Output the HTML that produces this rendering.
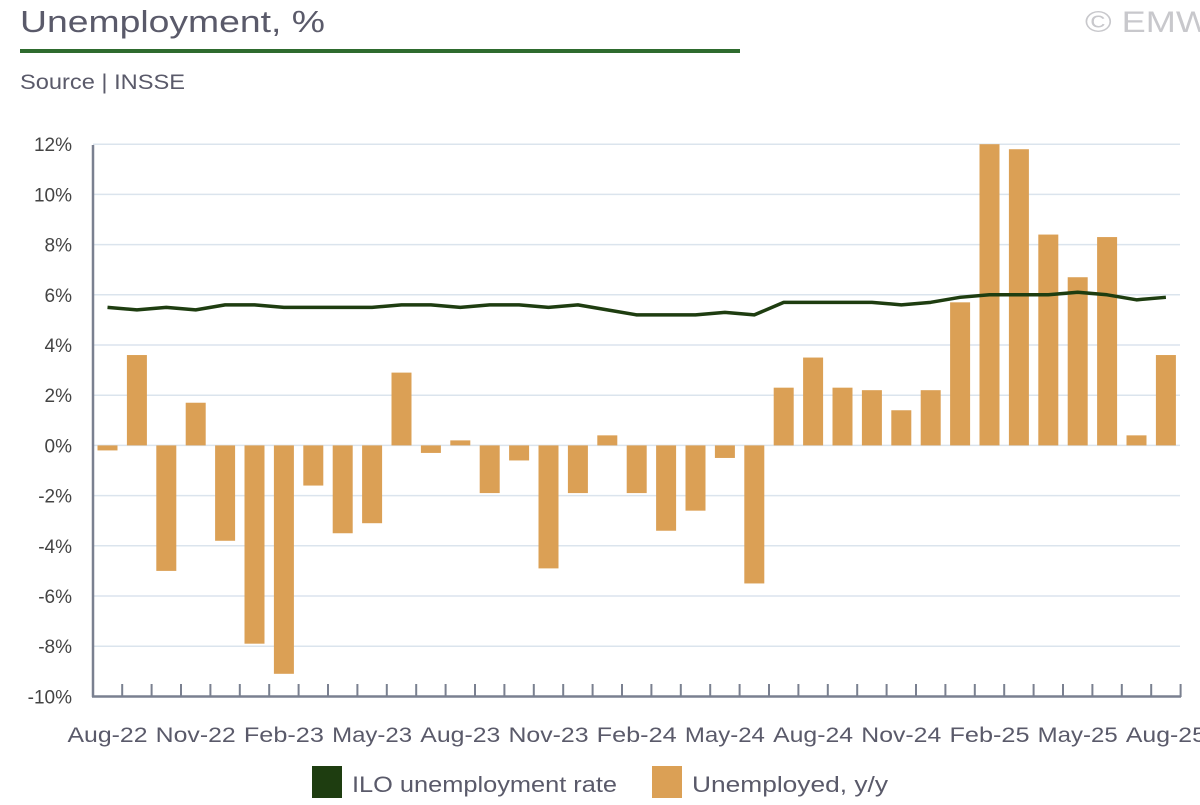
<!DOCTYPE html>
<html><head><meta charset="utf-8"><style>
body{margin:0;background:#fff;width:1200px;height:800px;overflow:hidden;font-family:"Liberation Sans",sans-serif}
</style></head><body>
<svg id="s" width="1200" height="800" xmlns="http://www.w3.org/2000/svg" font-family="Liberation Sans, sans-serif"></svg>
<script>
const s=document.getElementById('s');
let h='';
h+='<text x="20" y="32" font-size="31" fill="#5a5a6a" textLength="305" lengthAdjust="spacingAndGlyphs">Unemployment, %</text>';
h+='<rect x="20" y="49" width="720" height="4" fill="#2e6b2e"/>';
h+='<text x="20" y="89" font-size="21" fill="#5a5a6a" textLength="165" lengthAdjust="spacingAndGlyphs">Source | INSSE</text>';
h+='<text x="1085" y="32" font-size="30" fill="#c8c8cc" textLength="125" lengthAdjust="spacingAndGlyphs">© EMW</text>';
const y0=445.4,k=25.1;const Y=v=>y0-v*k;
for(let v=-10;v<=12;v+=2){const y=Y(v);
 if(v>-10)h+=`<line x1="93" x2="1180" y1="${y}" y2="${y}" stroke="#dbe4ed" stroke-width="1.5"/>`;
 h+=`<text x="72" y="${y+7}" font-size="19" fill="#444" text-anchor="end">${v}%</text>`;}
const bars=[-0.2,3.6,-5.0,1.7,-3.8,-7.9,-9.1,-1.6,-3.5,-3.1,2.9,-0.3,0.2,-1.9,-0.6,-4.9,-1.9,0.4,-1.9,-3.4,-2.6,-0.5,-5.5,2.3,3.5,2.3,2.2,1.4,2.2,5.7,12.0,11.8,8.4,6.7,8.3,0.4,3.6];
const line=[5.5,5.4,5.5,5.4,5.6,5.6,5.5,5.5,5.5,5.5,5.6,5.6,5.5,5.6,5.6,5.5,5.6,5.4,5.2,5.2,5.2,5.3,5.2,5.7,5.7,5.7,5.7,5.6,5.7,5.9,6.0,6.0,6.0,6.1,6.0,5.8,5.9];
const X=i=>107.5+i*29.4;
bars.forEach((v,i)=>{const a=Y(Math.max(v,0)),b=Y(Math.min(v,0));h+=`<rect x="${X(i)-10}" y="${a}" width="20" height="${b-a}" fill="#dba055"/>`});
h+=`<polyline fill="none" stroke="#1e3d10" stroke-width="3.5" stroke-linejoin="round" points="${line.map((v,i)=>X(i)+','+Y(v)).join(' ')}"/>`;
h+='<line x1="93" y1="145" x2="93" y2="697" stroke="#7a8090" stroke-width="2.5"/>';
h+='<line x1="92" y1="696.5" x2="1181" y2="696.5" stroke="#7a8090" stroke-width="2.5"/>';
for(let i=0;i<=36;i++){const x=X(i)+14.7;h+=`<line x1="${x}" x2="${x}" y1="684" y2="697" stroke="#7a8090" stroke-width="2"/>`;}
const lab=['Aug-22','Nov-22','Feb-23','May-23','Aug-23','Nov-23','Feb-24','May-24','Aug-24','Nov-24','Feb-25','May-25','Aug-25'];
lab.forEach((t,j)=>{h+=`<text x="${X(j*3)}" y="742" font-size="21" fill="#5a5a6a" text-anchor="middle" textLength="80" lengthAdjust="spacingAndGlyphs">${t}</text>`});
h+='<rect x="312" y="766" width="30" height="32" fill="#1e3d10"/><text x="352" y="792" font-size="22" fill="#5a5a6a" textLength="265" lengthAdjust="spacingAndGlyphs">ILO unemployment rate</text>';
h+='<rect x="652" y="766" width="30" height="32" fill="#dba055"/><text x="692" y="792" font-size="22" fill="#5a5a6a" textLength="196" lengthAdjust="spacingAndGlyphs">Unemployed, y/y</text>';
s.innerHTML=h;
</script>
</body></html>
